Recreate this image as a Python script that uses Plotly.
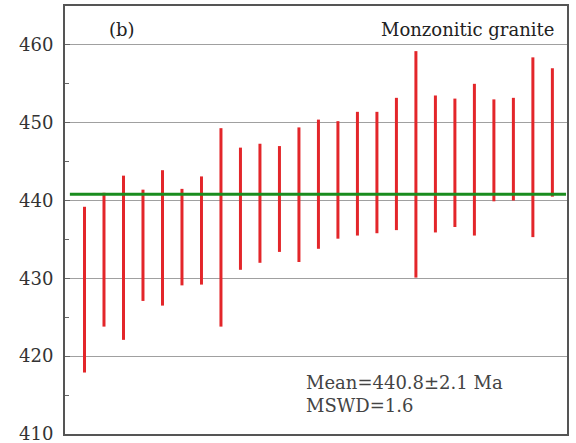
import plotly.graph_objects as go

# Analysis spots (1..25) with 2-sigma age ranges (Ma)
spot = list(range(1, 26))
age_low = [417.9, 423.8, 422.1, 427.1, 426.5, 429.1, 429.2, 423.8, 431.1, 432.0,
           433.4, 432.1, 433.8, 435.1, 435.5, 435.8, 436.2, 430.1, 435.9, 436.6,
           435.5, 439.9, 440.0, 435.3, 440.5]
age_high = [439.2, 441.0, 443.2, 441.4, 443.9, 441.5, 443.1, 449.3, 446.8, 447.3,
            447.0, 449.4, 450.4, 450.2, 451.4, 451.4, 453.2, 459.2, 453.5, 453.1,
            455.0, 453.0, 453.2, 458.4, 457.0]
mean_age = 440.8
y_ticks = [410, 420, 430, 440, 450, 460]

xs, ys = [], []
for s, lo, hi in zip(spot, age_low, age_high):
    xs += [s, s, None]
    ys += [lo, hi, None]

fig = go.Figure()
fig.add_trace(go.Scatter(x=xs, y=ys, mode="lines",
                         line=dict(color="#e3262a", width=3),
                         hoverinfo="skip", showlegend=False))
fig.add_trace(go.Scatter(x=[0.25, 25.7], y=[mean_age, mean_age], mode="lines",
                         line=dict(color="#1a8c1e", width=3),
                         hoverinfo="skip", showlegend=False))

font_serif = "DejaVu Serif, serif"
fig.update_layout(
    width=576, height=443,
    margin=dict(l=65, r=9, t=6, b=9),
    plot_bgcolor="white", paper_bgcolor="white",
    font=dict(family=font_serif, size=18, color="#333333"),
    xaxis=dict(range=[0, 25.75], showgrid=False, zeroline=False,
               showticklabels=False, ticks="", automargin=False,
               showline=True, mirror=True, linecolor="#555555", linewidth=2),
    yaxis=dict(range=[410, 465], tickvals=y_ticks, showgrid=True,
               gridcolor="#a0a0a0", gridwidth=1, zeroline=False,
               ticks="inside", ticklen=5, tickcolor="#666666",
               minor=dict(dtick=5, tick0=410, ticks="inside", ticklen=4,
                          tickcolor="#666666", showgrid=False),
               tickfont=dict(size=18, family=font_serif, color="#333333"),
               ticklabelstandoff=6, ticklabeloverflow="allow", automargin=False,
               showline=True, mirror=True, linecolor="#555555", linewidth=2),
    annotations=[
        dict(x=0.084, y=0.944, xref="paper", yref="paper", text="(b)",
             showarrow=False, xanchor="left", yanchor="middle",
             font=dict(size=18, family=font_serif, color="#222222")),
        dict(x=0.979, y=0.945, xref="paper", yref="paper", text="Monzonitic granite",
             showarrow=False, xanchor="right", yanchor="middle",
             font=dict(size=18, family=font_serif, color="#222222")),
        dict(x=0.476, y=0.094, xref="paper", yref="paper",
             text="Mean=440.8±2.1 Ma<br>MSWD=1.6", align="left",
             showarrow=False, xanchor="left", yanchor="middle",
             font=dict(size=18, family=font_serif, color="#444444")),
    ],
)

fig.write_html("out.html")
